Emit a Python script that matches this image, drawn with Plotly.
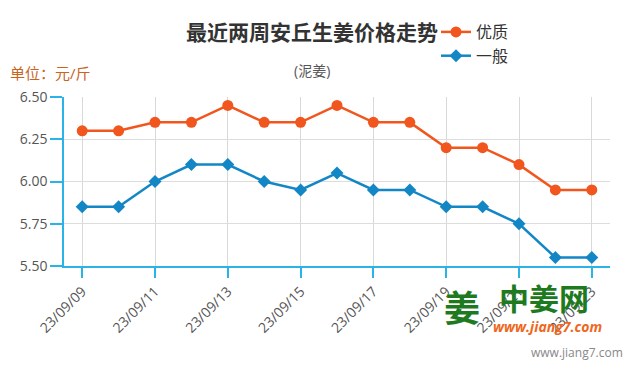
import plotly.graph_objects as go

dates = ["23/09/09", "23/09/10", "23/09/11", "23/09/12", "23/09/13", "23/09/14", "23/09/15",
         "23/09/16", "23/09/17", "23/09/18", "23/09/19", "23/09/20", "23/09/21", "23/09/22", "23/09/23"]
premium = [6.30, 6.30, 6.35, 6.35, 6.45, 6.35, 6.35, 6.45, 6.35, 6.35, 6.20, 6.20, 6.10, 5.95, 5.95]
ordinary = [5.85, 5.85, 6.00, 6.10, 6.10, 6.00, 5.95, 6.05, 5.95, 5.95, 5.85, 5.85, 5.75, 5.55, 5.55]
tick_dates = dates[::2]
y_ticks = [5.50, 5.75, 6.00, 6.25, 6.50]

ORANGE = "#f0561d"
BLUE = "#1387c6"
AXIS = "#29b3e6"
FONT = "Open Sans, Noto Sans CJK SC, sans-serif"

fig = go.Figure()
fig.add_trace(go.Scatter(x=dates, y=premium, name="优质", mode="lines+markers",
                         line=dict(color=ORANGE, width=2.5),
                         marker=dict(symbol="circle", size=11, color=ORANGE)))
fig.add_trace(go.Scatter(x=dates, y=ordinary, name="一般", mode="lines+markers",
                         line=dict(color=BLUE, width=2.5),
                         marker=dict(symbol="diamond", size=10, color=BLUE)))

fig.update_layout(
    width=635, height=375,
    margin=dict(l=64, r=25, t=97, b=109, autoexpand=False),
    paper_bgcolor="white", plot_bgcolor="white",
    font=dict(family=FONT, color="#555555"),
    showlegend=True,
    legend=dict(x=(436 - 64) / 546, y=(266 - 15) / 169, xanchor="left", yanchor="top",
                font=dict(size=16, color="#333333"), bgcolor="rgba(0,0,0,0)",
                tracegroupgap=0, itemwidth=30),
)
fig.update_xaxes(type="category", categoryorder="array", categoryarray=dates,
                 range=[-0.5, 14.5], tickmode="array", tickvals=tick_dates, ticktext=tick_dates,
                 tickangle=-45, showgrid=True, gridcolor="#d9d9d9", gridwidth=1,
                 showline=True, linecolor=AXIS, linewidth=1.5,
                 ticks="outside", ticklen=10, tickcolor=AXIS, tickwidth=1.5,
                 tickfont=dict(size=14, color="#555555"), zeroline=False, automargin=False)
fig.update_yaxes(range=[5.5, 6.5], tickmode="array", tickvals=y_ticks,
                 ticktext=[f"{v:.2f}" for v in y_ticks],
                 showgrid=True, gridcolor="#dddddd", gridwidth=1,
                 showline=True, linecolor=AXIS, linewidth=1.5,
                 ticks="outside", ticklen=12, tickcolor=AXIS, tickwidth=1.5,
                 tickfont=dict(size=14, color="#555555"), zeroline=False, automargin=False)

fig.add_annotation(text="<b>最近两周安丘生姜价格走势</b>", xref="paper", yref="paper",
                   x=(312 - 64) / 546, y=(266 - 32) / 169, xanchor="center", yanchor="middle",
                   showarrow=False, font=dict(size=21, color="#333333", family=FONT))
fig.add_annotation(text="(泥姜)", xref="paper", yref="paper",
                   x=(312 - 64) / 546, y=(266 - 70) / 169, xanchor="center", yanchor="middle",
                   showarrow=False, font=dict(size=14, color="#555555", family=FONT))
fig.add_annotation(text="单位：元/斤", xref="paper", yref="paper",
                   x=(8 - 64) / 546, y=(266 - 73) / 169, xanchor="left", yanchor="middle",
                   showarrow=False, font=dict(size=15, color="#c8641e", family=FONT))
# watermark
fig.add_annotation(text="<b>姜</b>", xref="paper", yref="paper",
                   x=(462 - 64) / 546, y=(266 - 308) / 169, xanchor="center", yanchor="middle",
                   showarrow=False, font=dict(size=36, color="#1e7a1e", family=FONT))
fig.add_annotation(text="<b>中姜网</b>", xref="paper", yref="paper",
                   x=(544 - 64) / 546, y=(266 - 298) / 169, xanchor="center", yanchor="middle",
                   showarrow=False, font=dict(size=30, color="#1e7a1e", family=FONT))
fig.add_annotation(text="<b><i>www.jiang7.com</i></b>", xref="paper", yref="paper",
                   x=(547 - 64) / 546, y=(266 - 326) / 169, xanchor="center", yanchor="middle",
                   showarrow=False, font=dict(size=14, color="#f0661d", family=FONT))
fig.add_annotation(text="www.jiang7.com", xref="paper", yref="paper",
                   x=(625 - 64) / 546, y=(266 - 352) / 169, xanchor="right", yanchor="middle",
                   showarrow=False, font=dict(size=12, color="#888888", family=FONT))

fig.write_html("out.html", config={"displayModeBar": False},
               post_script="document.body.style.margin='0';")
